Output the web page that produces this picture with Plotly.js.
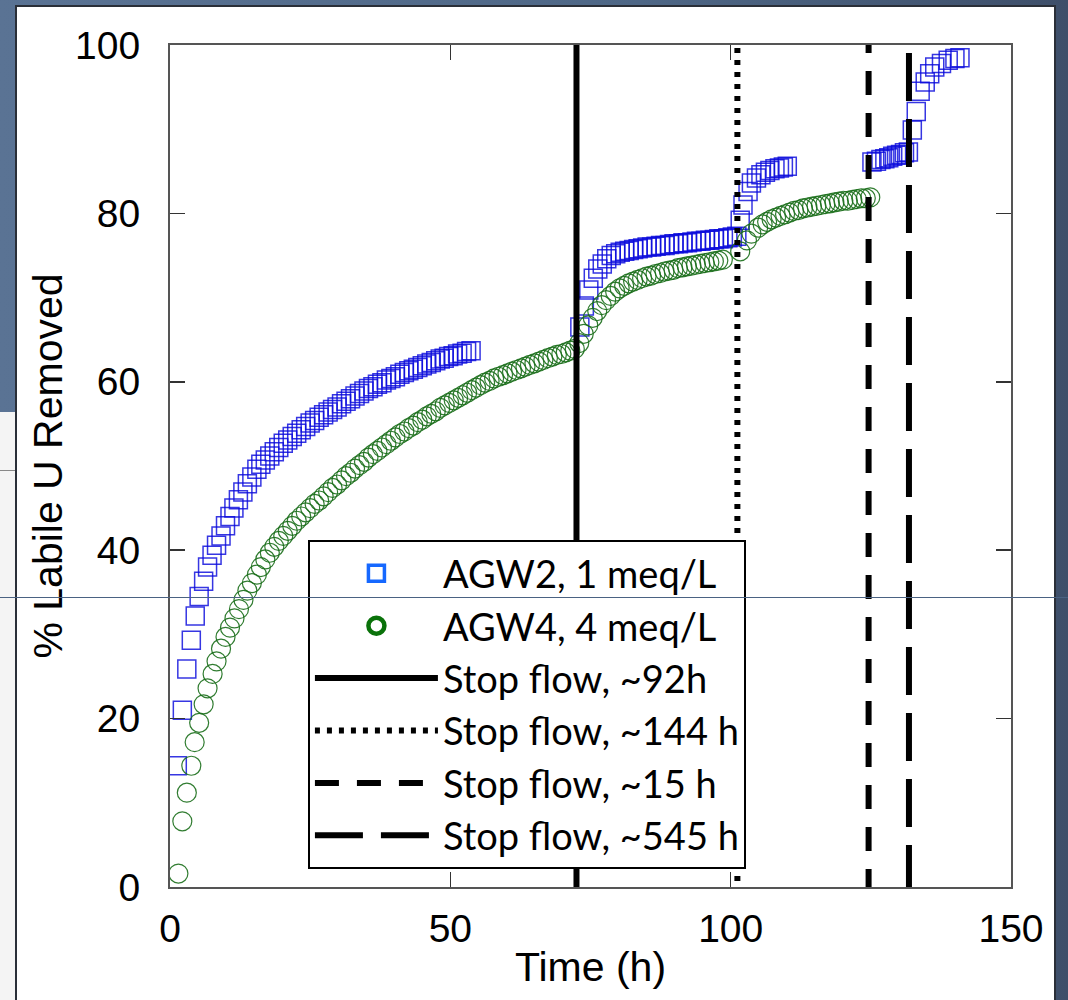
<!DOCTYPE html>
<html>
<head>
<meta charset="utf-8">
<script src="https://cdn.plot.ly/plotly-3.0.1.min.js"></script>
<style>
  html, body { margin:0; padding:0; }
  body { width:1068px; height:1000px; position:relative; overflow:hidden;
         background: linear-gradient(to right, #5a7394 0%, #4e6786 60%, #3e4f6a 100%); }
  #panel { position:absolute; left:15px; top:5px; width:1041px; height:1000px; background:#fff;
           border-left:2px solid #2a2f38; border-top:2px solid #2a2f38; border-right:2px solid #2a2f38; box-sizing:border-box; }
  #lowleft { position:absolute; left:0; top:412px; width:15px; height:588px; background:#f4f4f4; }
  #lowleftline { position:absolute; left:0; top:470px; width:15px; height:1px; background:#888; }
  #hline { position:absolute; left:0; top:597px; width:1068px; height:1px; background:#4a6282; z-index:10; }
  #chart { position:absolute; left:0; top:0; width:1068px; height:1000px; }
</style>
</head>
<body>
<div id="lowleft"></div>
<div id="lowleftline"></div>
<div id="panel"></div>
<div id="chart"></div>
<div id="hline"></div>
<script>
// AGW2, 1 meq/L (time h, % labile U removed)
const agw2Time = [
  1.3, 2.2, 3.0, 3.8, 4.5, 5.2, 6.0, 6.7, 7.5, 8.3, 9.1, 9.9, 10.7, 11.4, 12.2, 13.0, 13.8, 14.6, 15.5,
  16.2, 17.0, 17.8, 18.6, 19.4, 20.2, 21.0, 21.8, 22.6, 23.4, 24.2, 25.0, 25.8, 26.6, 27.4, 28.2, 29.0,
  29.8, 30.6, 31.4, 32.2, 33.0, 33.8, 34.6, 35.4, 36.2, 37.0, 37.8, 38.6, 39.4, 40.2, 41.0, 41.8, 42.6,
  43.4, 44.2, 45.0, 45.8, 46.6, 47.4, 48.2, 48.9, 49.7, 50.5, 51.3, 52.1, 52.9, 53.7,
  73.1, 73.9, 74.7, 75.5, 76.3, 77.1, 77.9, 78.7, 79.5, 80.3, 81.1, 81.9, 82.7, 83.5, 84.3, 85.1, 85.9,
  86.7, 87.5, 88.3, 89.1, 89.9, 90.7, 91.5, 92.3, 93.1, 93.9, 94.7, 95.5, 96.3, 97.1, 97.9, 98.7, 99.5,
  100.3, 101.1,
  101.7, 102.2, 103.1, 103.7, 104.6, 105.4, 106.2, 107.0, 107.9, 108.7, 109.4, 110.1,
  125.2, 126.0, 126.8, 127.5, 128.2, 128.9, 129.6, 130.3, 131.0, 131.7,
  132.4, 133.1, 133.8, 134.7, 135.5, 136.4, 137.6, 138.8, 140.0, 140.9
];
const agw2Removed = [
  14.4, 21.0, 25.9, 29.3, 32.2, 34.5, 36.3, 38.0, 39.4, 40.6, 41.7, 42.9, 44.0, 45.0, 46.0, 46.9, 47.9, 48.7, 49.6,
  50.2, 50.7, 51.2, 51.7, 52.2, 52.7, 53.1, 53.5, 53.9, 54.3, 54.7, 55.1, 55.4, 55.8, 56.1, 56.4, 56.7,
  57.0, 57.4, 57.7, 58.0, 58.3, 58.6, 58.9, 59.2, 59.4, 59.7, 59.9, 60.2, 60.4, 60.6, 60.9, 61.1, 61.3,
  61.5, 61.7, 61.9, 62.1, 62.3, 62.5, 62.7, 62.8, 63.0, 63.1, 63.3, 63.4, 63.6, 63.7,
  66.5, 69.0, 70.9, 72.3, 73.4, 74.0, 74.6, 75.0, 75.2, 75.4, 75.5, 75.6, 75.7, 75.8, 75.9, 76.0, 76.0,
  76.1, 76.2, 76.2, 76.3, 76.4, 76.4, 76.5, 76.5, 76.6, 76.7, 76.7, 76.8, 76.8, 76.9, 77.0, 77.0, 77.1,
  77.2, 77.3,
  79.2, 81.0, 82.6, 83.6, 84.2, 84.6, 84.9, 85.1, 85.3, 85.4, 85.5, 85.6,
  86.1, 86.2, 86.4, 86.5, 86.6, 86.8, 86.9, 87.0, 87.2, 87.3,
  89.9, 92.1, 94.5, 95.6, 96.6, 97.4, 97.8, 98.2, 98.4, 98.5
];

// AGW4, 4 meq/L
const agw4Time = [
  1.5, 2.2, 3.0, 3.8, 4.4, 5.2, 6.0, 6.7, 7.6, 8.3, 9.1, 9.9, 10.7, 11.5, 12.3, 13.1, 13.8, 14.6, 15.5,
  16.2, 17.0, 17.8, 18.6, 19.4, 20.2, 21.0, 21.8, 22.6, 23.4, 24.2, 25.0, 25.8, 26.6, 27.4, 28.2, 29.0,
  29.8, 30.6, 31.4, 32.2, 33.0, 33.8, 34.6, 35.4, 36.2, 37.0, 37.8, 38.6, 39.4, 40.2, 41.0, 41.8, 42.6,
  43.4, 44.2, 45.0, 45.8, 46.6, 47.4, 48.2, 49.0, 49.8, 50.6, 51.4, 52.2, 53.0, 53.8, 54.6, 55.4, 56.2,
  57.0, 57.8, 58.6, 59.4, 60.2, 61.0, 61.8, 62.6, 63.4, 64.2, 65.0, 65.8, 66.6, 67.4, 68.2, 69.0, 69.8,
  70.6, 71.4, 72.2,
  73.0, 73.8, 74.6, 75.4, 76.2, 77.0, 77.8, 78.6, 79.4, 80.2, 81.0, 81.8, 82.6, 83.4, 84.2, 85.0, 85.8,
  86.6, 87.4, 88.2, 89.0, 89.8, 90.6, 91.4, 92.2, 93.0, 93.8, 94.6, 95.4, 96.2, 97.0, 97.8, 98.6,
  101.7, 102.9, 103.7, 104.9, 105.7, 106.5, 107.3, 108.1, 108.9, 109.7, 110.5, 111.3, 112.1, 112.9,
  113.7, 114.5, 115.3, 116.1, 116.9, 117.7, 118.5, 119.3, 120.1, 120.9, 121.7, 122.5, 123.3, 124.1, 124.9
];
const agw4Removed = [
  1.6, 7.8, 11.2, 14.4, 17.2, 19.5, 21.7, 23.6, 25.3, 26.8, 28.3, 29.7, 30.8, 31.9, 33.0, 34.1, 35.2, 36.1, 37.1,
  38.0, 38.9, 39.7, 40.4, 41.1, 41.7, 42.3, 42.9, 43.5, 44.0, 44.5, 45.0, 45.5, 45.9, 46.4, 46.9, 47.4,
  47.8, 48.3, 48.8, 49.2, 49.7, 50.1, 50.5, 51.0, 51.4, 51.8, 52.2, 52.6, 53.0, 53.4, 53.8, 54.1, 54.5,
  54.8, 55.2, 55.5, 55.9, 56.2, 56.5, 56.9, 57.2, 57.5, 57.8, 58.1, 58.4, 58.7, 59.0, 59.3, 59.6, 59.9,
  60.1, 60.4, 60.6, 60.8, 61.0, 61.2, 61.4, 61.6, 61.8, 62.0, 62.2, 62.4, 62.6, 62.8, 63.0, 63.2, 63.3,
  63.5, 63.7, 63.9,
  64.6, 65.7, 66.7, 67.6, 68.4, 69.1, 69.7, 70.2, 70.7, 71.1, 71.4, 71.7, 71.9, 72.1, 72.3, 72.5, 72.6,
  72.8, 72.9, 73.1, 73.2, 73.3, 73.5, 73.6, 73.7, 73.8, 73.9, 74.0, 74.1, 74.2, 74.3, 74.4, 74.5,
  75.5, 76.8, 77.6, 78.3, 78.7, 79.0, 79.3, 79.5, 79.7, 79.9, 80.1, 80.3, 80.4, 80.6,
  80.7, 80.8, 80.9, 81.0, 81.1, 81.2, 81.3, 81.4, 81.5, 81.5, 81.6, 81.7, 81.8, 81.8, 81.9
];

// Stop-flow events (vertical lines)
const stopTimes  = [72.5, 101.2, 124.6, 131.8];
const stopLabels = ['Stop flow, ~92h', 'Stop flow, ~144 h', 'Stop flow, ~15 h', 'Stop flow, ~545 h'];
const stopDashes = ['solid', '5px,7px', '24px,18px', '48px,18px'];
const yRange = [0, 100];

const seriesNames = ['AGW2, 1 meq/L', 'AGW4, 4 meq/L'];

const traces = [];
// data traces
traces.push({
  x: agw2Time, y: agw2Removed, type: 'scatter', mode: 'markers', showlegend: false,
  marker: { symbol: 'square-open', size: 18, color: 'rgba(10,10,220,0.82)', line: { width: 1.5 } },
  hoverinfo: 'x+y'
});
traces.push({
  x: agw4Time, y: agw4Removed, type: 'scatter', mode: 'markers', showlegend: false,
  marker: { symbol: 'circle-open', size: 19, color: 'rgba(25,110,25,0.9)', line: { width: 1.2 } },
  hoverinfo: 'x+y'
});
// legend entries for the data series
traces.push({
  x: [null], y: [null], type: 'scatter', mode: 'markers', name: seriesNames[0],
  marker: { symbol: 'square-open', size: 16, color: '#1668ff', line: { width: 3.5 } }
});
traces.push({
  x: [null], y: [null], type: 'scatter', mode: 'markers', name: seriesNames[1],
  marker: { symbol: 'circle-open', size: 16, color: '#0a720a', line: { width: 4.5 } }
});
// stop-flow lines
stopTimes.forEach((t, i) => {
  traces.push({
    x: [t, t], y: [yRange[0] - 0.7, yRange[1]], type: 'scatter', mode: 'lines', name: stopLabels[i],
    line: { color: '#000', width: 6, dash: stopDashes[i] }, cliponaxis: false, hoverinfo: 'name'
  });
});

const layout = {
  width: 1068, height: 1000,
  paper_bgcolor: 'rgba(0,0,0,0)', plot_bgcolor: '#fff',
  margin: { l: 170, r: 57, t: 45, b: 113 },
  font: { family: '"Liberation Sans", Arial, sans-serif', color: '#000' },
  xaxis: {
    range: [0, 150], dtick: 50, tick0: 0,
    ticks: 'inside', ticklen: 15, tickwidth: 1.5, tickcolor: '#333',
    showline: true, linecolor: '#555', linewidth: 2, mirror: 'ticks',
    showgrid: false, zeroline: false,
    tickfont: { size: 39, family: '"Liberation Sans", Arial, sans-serif' },
    ticklabelstandoff: 6,
    title: { text: 'Time (h)', font: { size: 41 }, standoff: 4 }
  },
  yaxis: {
    range: yRange, dtick: 20, tick0: 0,
    ticks: 'inside', ticklen: 15, tickwidth: 1.5, tickcolor: '#333',
    showline: true, linecolor: '#555', linewidth: 2, mirror: 'ticks',
    showgrid: false, zeroline: false,
    tickfont: { size: 39, family: '"Liberation Sans", Arial, sans-serif' },
    ticklabelstandoff: 20,
    title: { text: '% Labile U Removed', font: { size: 41 }, standoff: 0 }
  },
  legend: {
    x: 0.164, y: 0.412, xanchor: 'left', yanchor: 'top',
    bgcolor: '#fff', bordercolor: '#000', borderwidth: 2,
    font: { family: 'Lato, "Noto Sans", sans-serif', size: 38, color: '#000' },
    itemwidth: 123, tracegroupgap: 0
  },
  showlegend: true
};

Plotly.newPlot('chart', traces, layout, { displayModeBar: false, staticPlot: true });
</script>
</body>
</html>
